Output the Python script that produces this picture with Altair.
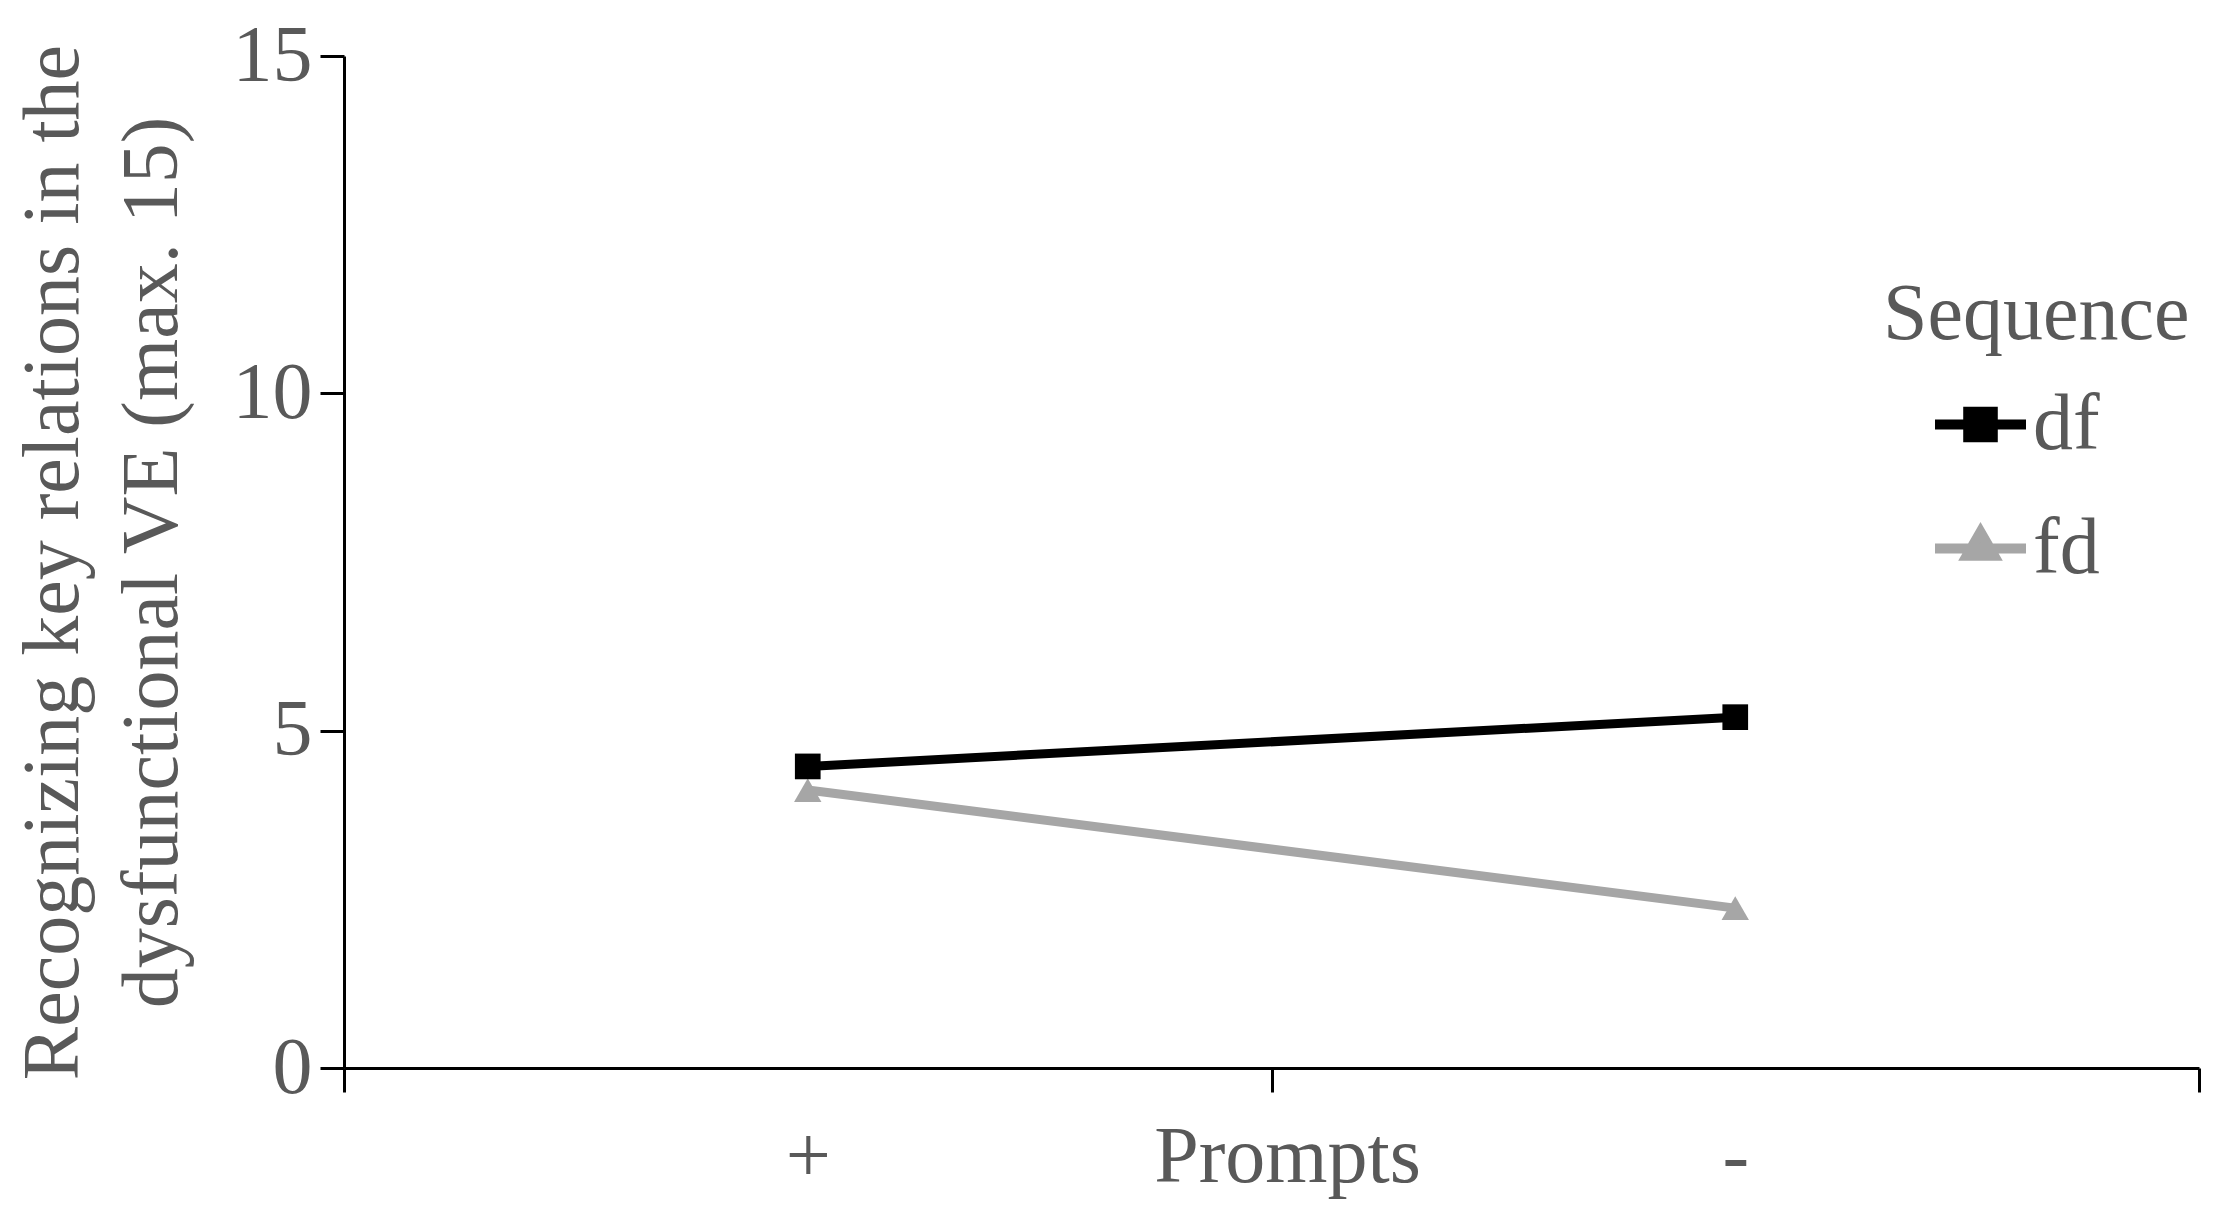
import altair as alt
import pandas as pd

# ---- data ----
prompts = ["+", "-"]
sequences = ["df", "fd"]
df_values = [4.47, 5.2]
fd_values = [4.12, 2.37]

rows = []
for p, v in zip(prompts, df_values):
    rows.append({"Prompts": p, "Sequence": "df", "Value": v})
for p, v in zip(prompts, fd_values):
    rows.append({"Prompts": p, "Sequence": "fd", "Value": v})
data = pd.DataFrame(rows)

FONT = "Liberation Serif"
TXT = "#595959"
colors = ["#000000", "#a6a6a6"]

# legend glyphs: a line segment with the series marker in the middle
PATH_DF = "M-1,0H1M-0.27,-0.28H0.27V0.28H-0.27Z"
PATH_FD = "M-1,0H1M0,-0.36L0.3,0.16H-0.3Z"

x_enc = alt.X(
    "Prompts:N",
    sort=prompts,
    scale=alt.Scale(type="band", paddingInner=0, paddingOuter=0),
    axis=alt.Axis(
        title="Prompts",
        labelAngle=0,
        tickBand="extent",
        tickSize=24,
        tickWidth=3,
        tickColor="#000000",
        domainColor="#000000",
        domainWidth=3,
        labelPadding=26,
        labelFont=FONT,
        labelFontSize=80,
        labelColor=TXT,
        titleFont=FONT,
        titleFontSize=80,
        titleFontWeight="normal",
        titleColor=TXT,
        titleX=943,
        titleY=113,
        titleBaseline="alphabetic",
        titleAlign="center",
        grid=False,
    ),
)

y_enc = alt.Y(
    "Value:Q",
    scale=alt.Scale(domain=[0, 15], nice=False),
    axis=alt.Axis(
        title=["Recognizing key relations in the", "dysfunctional VE (max. 15)"],
        values=[0, 5, 10, 15],
        tickSize=24,
        tickWidth=3,
        tickColor="#000000",
        domainColor="#000000",
        domainWidth=3,
        labelPadding=8,
        labelFont=FONT,
        labelFontSize=80,
        labelColor=TXT,
        titleFont=FONT,
        titleFontSize=80,
        titleFontWeight="normal",
        titleColor=TXT,
        titleLineHeight=99,
        titleX=-250,
        titleY=506,
        titleAlign="center",
        titleBaseline="bottom",
        titleLimit=2000,
        grid=False,
    ),
)

legend = alt.Legend(
    title="Sequence",
    orient="none",
    legendX=1539,
    legendY=220,
    padding=0,
    titleFont=FONT,
    titleFontSize=80,
    titleFontWeight="normal",
    titleColor=TXT,
    titlePadding=18,
    titleLimit=1000,
    labelFont=FONT,
    labelFontSize=80,
    labelColor=TXT,
    labelLimit=500,
    rowPadding=33,
    symbolOffset=47,
    labelOffset=2,
    symbolSize=8281,
    symbolStrokeWidth=10,
    symbolOpacity=1,
)

color_scale = alt.Scale(domain=sequences, range=colors)

stroke_enc = alt.Stroke("Sequence:N", sort=sequences, scale=color_scale, legend=legend)
fill_enc = alt.Fill("Sequence:N", sort=sequences, scale=color_scale, legend=legend)
shape_enc = alt.Shape(
    "Sequence:N",
    sort=sequences,
    scale=alt.Scale(domain=sequences, range=[PATH_DF, PATH_FD]),
    legend=legend,
)

# invisible layer that only feeds the legend glyphs
legend_layer = alt.Chart(data).mark_point(opacity=0).encode(
    x=x_enc, y=y_enc, fill=fill_enc, stroke=stroke_enc, shape=shape_enc
)

lines = alt.Chart(data).mark_line(strokeWidth=9).encode(
    x=x_enc, y=y_enc, stroke=stroke_enc, detail="Sequence:N"
)

squares = (
    alt.Chart(data)
    .transform_filter(alt.datum.Sequence == "df")
    .mark_square(size=660, opacity=1)
    .encode(x=x_enc, y=y_enc, fill=fill_enc)
)

triangles = (
    alt.Chart(data)
    .transform_filter(alt.datum.Sequence == "fd")
    .mark_point(shape="triangle-up", filled=True, size=750, opacity=1)
    .encode(x=x_enc, y=y_enc, fill=fill_enc)
)

chart = (
    alt.layer(legend_layer, lines, triangles, squares)
    .properties(
        width=1855,
        height=1012,
        autosize="none",
        padding={"left": 336, "top": 48, "right": 8, "bottom": 132},
        background="#ffffff",
    )
    .configure_view(stroke=None)
)

chart.save("out.html", embed_options={"renderer": "svg", "actions": False})
